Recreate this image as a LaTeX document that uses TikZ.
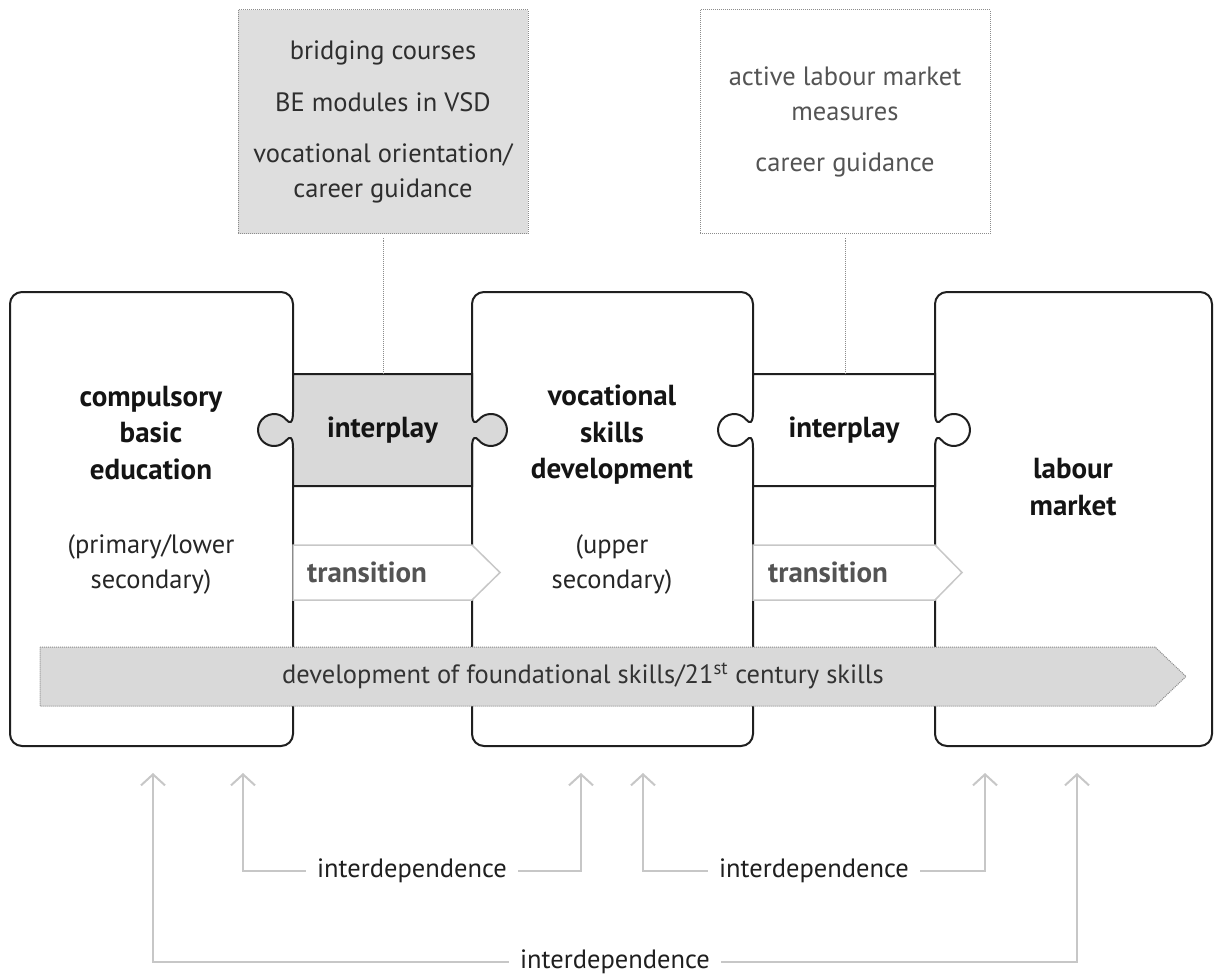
\documentclass[tikz,border=0pt]{standalone}
\usepackage{fontspec}
\setmainfont{PT Sans}
\usetikzlibrary{arrows.meta,positioning,calc}

\definecolor{panelgray}{gray}{0.85}
\definecolor{infogray}{gray}{0.87}
\definecolor{linegray}{gray}{0.78}
\definecolor{dotgray}{gray}{0.55}
\definecolor{softtext}{gray}{0.33}

\tikzset{
  block/.style n args={2}{
    rectangle, rounded corners=12pt,
    draw=black!88, line width=2pt, fill=white,
    minimum width=#1, minimum height=#2,
    inner sep=0pt, outer sep=0pt,
  }
}
\tikzset{
  title/.style={font=\fontsize{29}{36.5}\selectfont\bfseries, align=center, text=black!92},
  subtitle/.style={font=\fontsize{26.5}{35}\selectfont, align=center, text=black!85},
  iplabel/.style n args={2}{
    minimum width=#1, minimum height=#2, inner sep=0pt,
    font=\fontsize{29}{30}\selectfont\bfseries, text=black!92
  },
}
\tikzset{
  infobox/.style={
    rectangle, draw=dotgray, densely dotted, line width=1pt,
    minimum width=290, minimum height=224, inner sep=0pt,
    align=center, font=\fontsize{26.5}{34.5}\selectfont
  },
  link/.style={draw=dotgray, densely dotted, line width=1pt},
  piece/.style={draw=black!88, line width=2pt},
  trshape/.style={draw=linegray, line width=1.5pt, fill=white},
  trlabel/.style={font=\fontsize{29}{30}\selectfont\bfseries, text=softtext, inner sep=0pt},
  skillbar/.style={draw=dotgray, densely dotted, line width=1pt, fill=panelgray},
  dep/.style={->, draw=linegray, line width=2pt},
  deplabel/.style={font=\fontsize{26.5}{30}\selectfont, text=black!88, inner xsep=11pt},
}

% puzzle piece: fill, left x, right x, top y, bottom y, knob y
\newcommand{\puzzlepiece}[6]{%
  \filldraw[piece, fill=#1]
    (#2,#4) -- (#3,#4) -- (#3,#6-18)
    .. controls (#3,#6-6) and (#3+3.5,#6-6.5) .. (#3+6.7,#6-10.3)
    arc[start angle=-140, end angle=140, radius=16]
    .. controls (#3+3.5,#6+6.5) and (#3,#6+6) .. (#3,#6+18)
    -- (#3,#5) -- (#2,#5) -- (#2,#6+18)
    .. controls (#2,#6+6) and (#2-3.5,#6+6.5) .. (#2-6.7,#6+10.3)
    arc[start angle=40, end angle=320, radius=16]
    .. controls (#2-3.5,#6-6.5) and (#2,#6-6) .. (#2,#6-18) -- cycle;}

\begin{document}
\begin{tikzpicture}[x=1pt, y=-1pt, >={Straight Barb[length=11pt,width=24pt]}]
    \useasboundingbox (0,0) rectangle (1214,976);

    %% Main blocks
    \node[block={283}{454}] (cbe) at (151.5,519) {};
    \node[block={281}{454}] (vsd) at (612.5,519) {};
    \node[block={277}{454}] (lm) at (1073.5,519) {};

    %% Interplay pieces
    \puzzlepiece{panelgray}{293}{472}{374}{486}{430}
    \puzzlepiece{white}{753}{935}{374}{486}{430}
    \node[iplabel={179}{112}] (ip1) at (382.5,430) {interplay};
    \node[iplabel={182}{112}] (ip2) at (844,430) {interplay};

    %% Transitions
    \filldraw[trshape] (293,545) -- (472,545) -- (500,572.5) -- (472,600) -- (293,600) -- cycle;
    \filldraw[trshape] (753,545) -- (935,545) -- (962,572.5) -- (935,600) -- (753,600) -- cycle;
    \node[trlabel, anchor=west] (tr1) at (307,572) {transition};
    \node[trlabel, anchor=west] (tr2) at (768,572) {transition};

    %% Foundational skills
    \filldraw[skillbar] (40,647) -- (1155,647) -- (1186,676.5) -- (1155,706) -- (40,706) -- cycle;
    \node[font=\fontsize{26.5}{30}\selectfont, text=black!80] (fs) at (583,676)
        {development of foundational skills/21\textsuperscript{st} century skills};

    %% Block texts
    \node[title] (cbet) at (151,433) {compulsory\\basic\\education};
    \node[subtitle] (cbes) at (151,564) {(primary/lower\\secondary)};
    \node[title] (vsdt) at (612,435) {vocational\\skills\\development};
    \node[subtitle] (vsds) at (612,564) {(upper\\secondary)};
    \node[title] (lmt) at (1073,487) {labour\\market};

    %% Info boxes
    \node[infobox, fill=infogray, text=black!82] (infoA) at (383,122)
        {bridging courses\\[17pt]BE modules in VSD\\[17pt]vocational orientation/\\career guidance};
    \node[infobox, fill=white, text=softtext] (infoB) at (845,122)
        {active labour market\\measures\\[17pt]career guidance};
    \draw[link, shorten <=4pt] (infoA) -- (infoA |- ip1.north);
    \draw[link, shorten <=4pt] (infoB) -- (infoB |- ip2.north);

    %% Interdependence
    \node[deplabel] (dep1) at (412,871) {interdependence};
    \node[deplabel] (dep2) at (814,871) {interdependence};
    \node[deplabel] (dep3) at (615,962) {interdependence};
    \coordinate (u1) at (153,773);
    \coordinate (u2) at (243,773);
    \coordinate (u3) at (581,773);
    \coordinate (u4) at (643,773);
    \coordinate (u5) at (985,773);
    \coordinate (u6) at (1077,773);
    \draw[dep] (dep1.west) -| (u2);
    \draw[dep] (dep1.east) -| (u3);
    \draw[dep] (dep2.west) -| (u4);
    \draw[dep] (dep2.east) -| (u5);
    \draw[dep] (dep3.west) -| (u1);
    \draw[dep] (dep3.east) -| (u6);

\end{tikzpicture}
\end{document}
